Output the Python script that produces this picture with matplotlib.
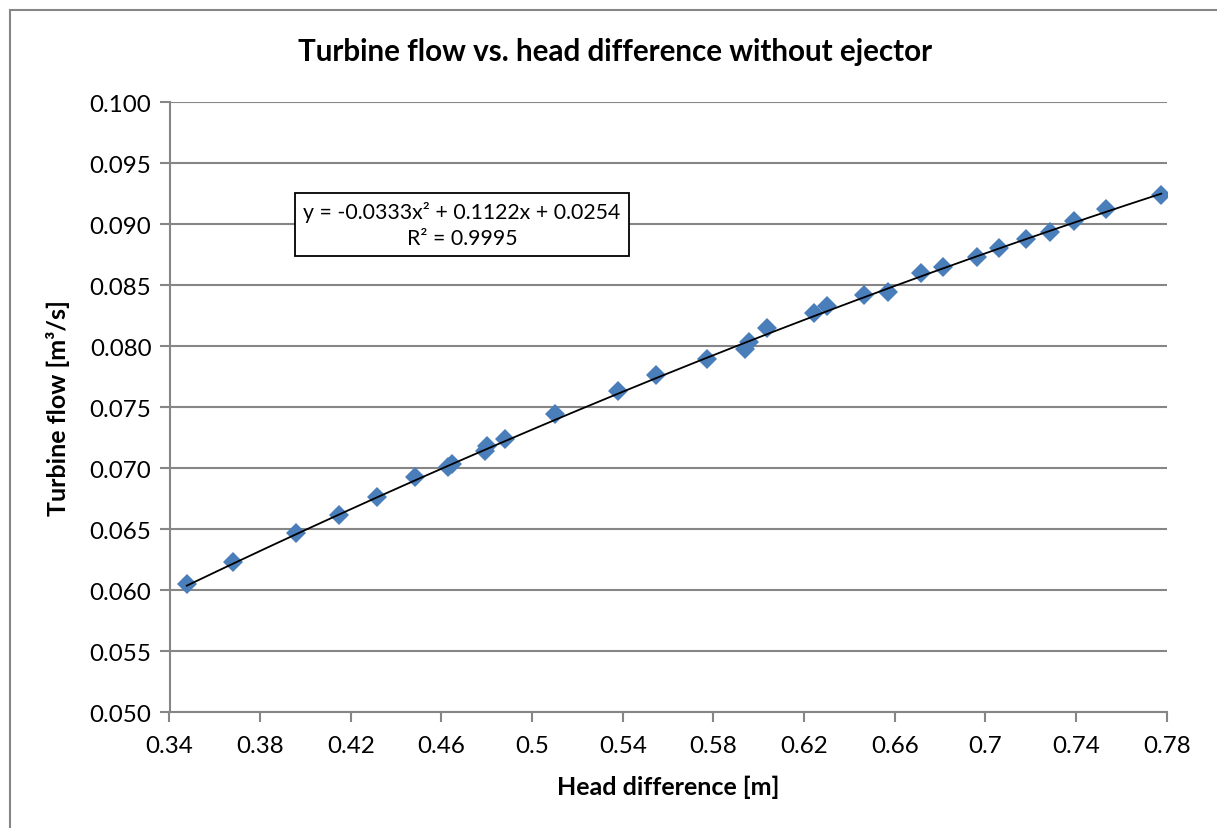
import numpy as np
import matplotlib
matplotlib.use('Agg')
import matplotlib.pyplot as plt
from matplotlib.patches import Rectangle

plt.rcParams['font.family'] = ['Lato', 'DejaVu Sans']

# measured head difference [m] and turbine flow [m3/s]
head = [0.3476, 0.3679, 0.3957, 0.4148, 0.4314, 0.4483, 0.4630, 0.4648,
        0.4790, 0.4803, 0.4881, 0.5101, 0.5381, 0.5547, 0.5771, 0.5940,
        0.5957, 0.6035, 0.6244, 0.6300, 0.6465, 0.6572, 0.6715, 0.6815,
        0.6962, 0.7058, 0.7178, 0.7283, 0.7392, 0.7531, 0.7776]
flow = [0.06052, 0.06229, 0.06470, 0.06617, 0.06767, 0.06926, 0.07012, 0.07034,
        0.07142, 0.07183, 0.07240, 0.07445, 0.07636, 0.07765, 0.07896, 0.07978,
        0.08035, 0.08147, 0.08270, 0.08328, 0.08420, 0.08449, 0.08601, 0.08648,
        0.08729, 0.08806, 0.08879, 0.08939, 0.09029, 0.09125, 0.09243]

# 2nd order polynomial trendline
coef = [-0.0333, 0.1122, 0.0254]
r2 = 0.9995

xticks = [0.34, 0.38, 0.42, 0.46, 0.50, 0.54, 0.58, 0.62, 0.66, 0.70, 0.74, 0.78]
xticklabels = ['0.34', '0.38', '0.42', '0.46', '0.5', '0.54', '0.58', '0.62',
               '0.66', '0.7', '0.74', '0.78']
yticks = [0.050, 0.055, 0.060, 0.065, 0.070, 0.075, 0.080, 0.085, 0.090, 0.095, 0.100]

grey = '#868686'

fig = plt.figure(figsize=(12.17, 8.29), dpi=100)
# chart frame
fig.patches.append(Rectangle((10 / 1217, -0.05), 1.1, (829 - 11) / 829 + 0.05,
                             transform=fig.transFigure, fill=False,
                             edgecolor=grey, linewidth=1.5))

ax = fig.add_axes([169.5 / 1217, (829 - 713.3) / 829,
                   (1166.7 - 169.5) / 1217, (713.3 - 103.3) / 829])

xs = np.linspace(min(head), max(head), 200)
ax.plot(xs, np.polyval(coef, xs), color='black', linewidth=1.3, zorder=3)
ax.plot(head, flow, linestyle='none', marker='D', markersize=9.8,
        color='#4A7EBB', markeredgewidth=0, zorder=2)

ax.set_xlim(0.34, 0.78)
ax.set_ylim(0.050, 0.100)
ax.set_xticks(xticks)
ax.set_xticklabels(xticklabels)
ax.set_yticks(yticks)
ax.set_yticklabels(['%.3f' % v for v in yticks])
ax.yaxis.grid(True, color=grey, linewidth=1.5)
ax.set_axisbelow(True)
for s in ['top', 'right']:
    ax.spines[s].set_visible(False)
for s in ['left', 'bottom']:
    ax.spines[s].set_color(grey)
    ax.spines[s].set_linewidth(1.5)
ax.tick_params(axis='both', colors=grey, labelcolor='black', labelsize=17.4,
               length=7, width=1.5, direction='out')
ax.tick_params(axis='x', pad=9)
ax.tick_params(axis='y', pad=6)

ax.set_xlabel('Head difference [m]', fontsize=18, fontweight='bold', labelpad=14)
ax.set_ylabel('Turbine flow [m³/s]', fontsize=18, fontweight='bold', labelpad=14)

fig.text(615 / 1217, 1 - 52 / 829, 'Turbine flow vs. head difference without ejector',
         ha='center', va='center', fontsize=21.3, fontweight='bold')

eq = 'y = %.4fx² + %.4fx + %.4f\nR² = %.4f' % (coef[0], coef[1], coef[2], r2)
ax.text(0.4691, 0.0900, eq, ha='center', va='center', fontsize=15.3,
        multialignment='center', linespacing=1.35,
        bbox=dict(boxstyle='square,pad=0.4', facecolor='white',
                  edgecolor='black', linewidth=1.3))

fig.savefig('out.png', dpi=100)
